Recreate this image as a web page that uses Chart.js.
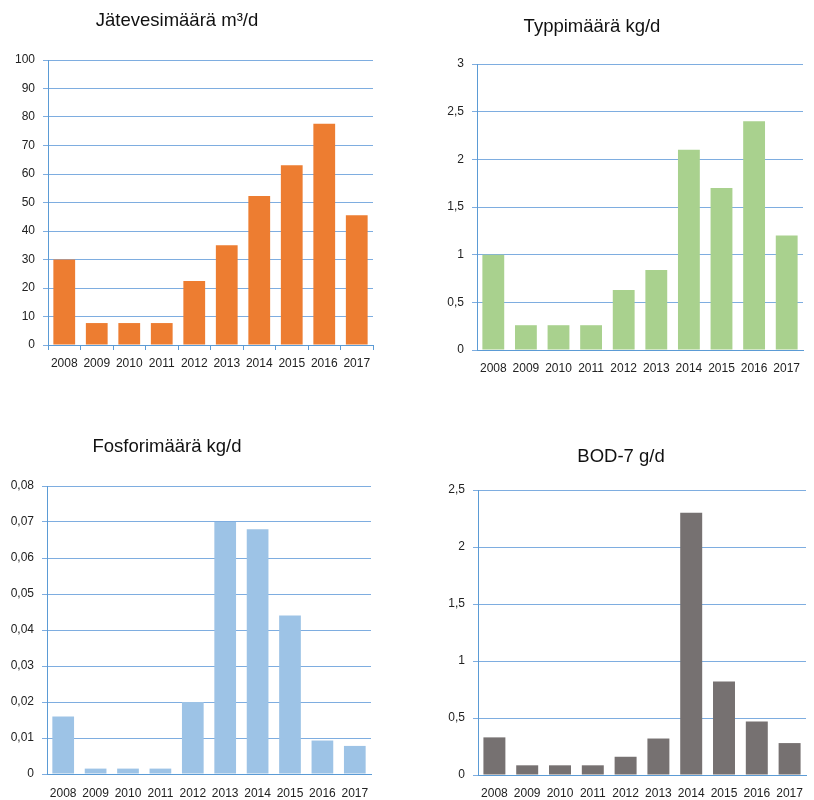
<!DOCTYPE html>
<html>
<head>
<meta charset="utf-8">
<script src="https://cdn.jsdelivr.net/npm/chart.js@4.4.1/dist/chart.umd.min.js"></script>
<style>
  html, body { margin: 0; padding: 0; background: #fff; }
  #wrap { position: relative; width: 814px; height: 800px; }
  .cell { position: absolute; width: 407px; height: 400px; }
  .cell canvas { display: block; }
</style>
</head>
<body>
<div id="wrap">
  <div class="cell" style="left:0;top:0"><canvas id="c1" width="407" height="400"></canvas></div>
  <div class="cell" style="left:407px;top:0"><canvas id="c2" width="407" height="400"></canvas></div>
  <div class="cell" style="left:0;top:400px"><canvas id="c3" width="407" height="400"></canvas></div>
  <div class="cell" style="left:407px;top:400px"><canvas id="c4" width="407" height="400"></canvas></div>
</div>
<script>
// Years shared by all four panels
const years = ['2008', '2009', '2010', '2011', '2012', '2013', '2014', '2015', '2016', '2017'];

// Wastewater volume, m3/d
const jatevesi = [30, 7.7, 7.7, 7.7, 22.5, 35, 52.3, 63.1, 77.6, 45.5];
// Nitrogen load, kg/d
const typpi = [1.0, 0.26, 0.26, 0.26, 0.63, 0.84, 2.1, 1.7, 2.4, 1.2];
// Phosphorus load, kg/d
const fosfori = [0.016, 0.0015, 0.0015, 0.0015, 0.020, 0.070, 0.068, 0.044, 0.0093, 0.0078];
// BOD-7, g/d
const bod7 = [0.33, 0.085, 0.085, 0.085, 0.16, 0.32, 2.3, 0.82, 0.47, 0.28];

// Y axis ranges and steps
const jatevesiAxis = { max: 100, step: 10 };
const typpiAxis = { max: 3, step: 0.5 };
const fosforiAxis = { max: 0.08, step: 0.01 };
const bod7Axis = { max: 2.5, step: 0.5 };

const FONT = "'Liberation Sans', Arial, sans-serif";
const GRID = '#7EADE0';
const AXIS = '#5B9BD5';

// Finnish decimal comma
function fiNum(v) {
  return String(+v.toFixed(4)).replace('.', ',');
}

// Draws a panel heading at a fixed spot on the canvas
const panelTitle = {
  id: 'panelTitle',
  afterDraw(chart, args, opts) {
    const ctx = chart.ctx;
    ctx.save();
    ctx.font = '18.5px ' + FONT;
    ctx.fillStyle = '#111';
    ctx.textAlign = 'center';
    ctx.textBaseline = 'alphabetic';
    ctx.fillText(opts.text, opts.x, opts.y);
    ctx.restore();
  }
};

function makePanel(id, cfg) {
  const W = 407, H = 400;
  new Chart(document.getElementById(id), {
    type: 'bar',
    data: {
      labels: years,
      datasets: [{
        data: cfg.values,
        backgroundColor: cfg.color,
        borderWidth: 0,
        barPercentage: 0.67,
        categoryPercentage: 1.0
      }]
    },
    plugins: [panelTitle],
    options: {
      responsive: false,
      animation: false,
      events: [],
      layout: {
        padding: { left: 0, right: W - cfg.area.right, top: cfg.area.top, bottom: 0 }
      },
      plugins: {
        legend: { display: false },
        tooltip: { enabled: false },
        title: { display: false },
        panelTitle: cfg.title
      },
      scales: {
        x: {
          grid: {
            display: cfg.xTicks,
            drawOnChartArea: false,
            drawTicks: cfg.xTicks,
            tickLength: 5,
            color: AXIS,
            offset: true
          },
          border: { display: true, color: AXIS, width: 1 },
          ticks: {
            color: '#222',
            font: { family: FONT, size: 12 },
            padding: cfg.xPad,
            maxRotation: 0,
            autoSkip: false
          },
          afterFit(scale) { scale.height = H - cfg.area.bottom; }
        },
        y: {
          min: 0,
          max: cfg.axis.max,
          grid: {
            color: GRID,
            lineWidth: 1,
            drawTicks: true,
            tickLength: 5
          },
          border: { display: true, color: AXIS, width: 1 },
          ticks: {
            stepSize: cfg.axis.step,
            color: '#222',
            font: { family: FONT, size: 12 },
            padding: 8,
            callback: (v) => fiNum(v)
          },
          afterFit(scale) { scale.width = cfg.area.left; }
        }
      }
    }
  });
}

makePanel('c1', {
  values: jatevesi, color: '#ED7D31', axis: jatevesiAxis,
  area: { left: 48, right: 373, top: 60, bottom: 345 },
  xTicks: true, xPad: 6,
  title: { text: 'Jätevesimäärä m³/d', x: 177, y: 26 }
});
makePanel('c2', {
  values: typpi, color: '#A9D18E', axis: typpiAxis,
  area: { left: 70, right: 396, top: 64, bottom: 350 },
  xTicks: false, xPad: 11,
  title: { text: 'Typpimäärä kg/d', x: 185, y: 32 }
});
makePanel('c3', {
  values: fosfori, color: '#9DC3E6', axis: fosforiAxis,
  area: { left: 47, right: 371, top: 86, bottom: 374 },
  xTicks: false, xPad: 12,
  title: { text: 'Fosforimäärä kg/d', x: 167, y: 52 }
});
makePanel('c4', {
  values: bod7, color: '#767171', axis: bod7Axis,
  area: { left: 71, right: 406, top: 90, bottom: 375 },
  xTicks: false, xPad: 11,
  title: { text: 'BOD-7 g/d', x: 214, y: 62 }
});
</script>
</body>
</html>
